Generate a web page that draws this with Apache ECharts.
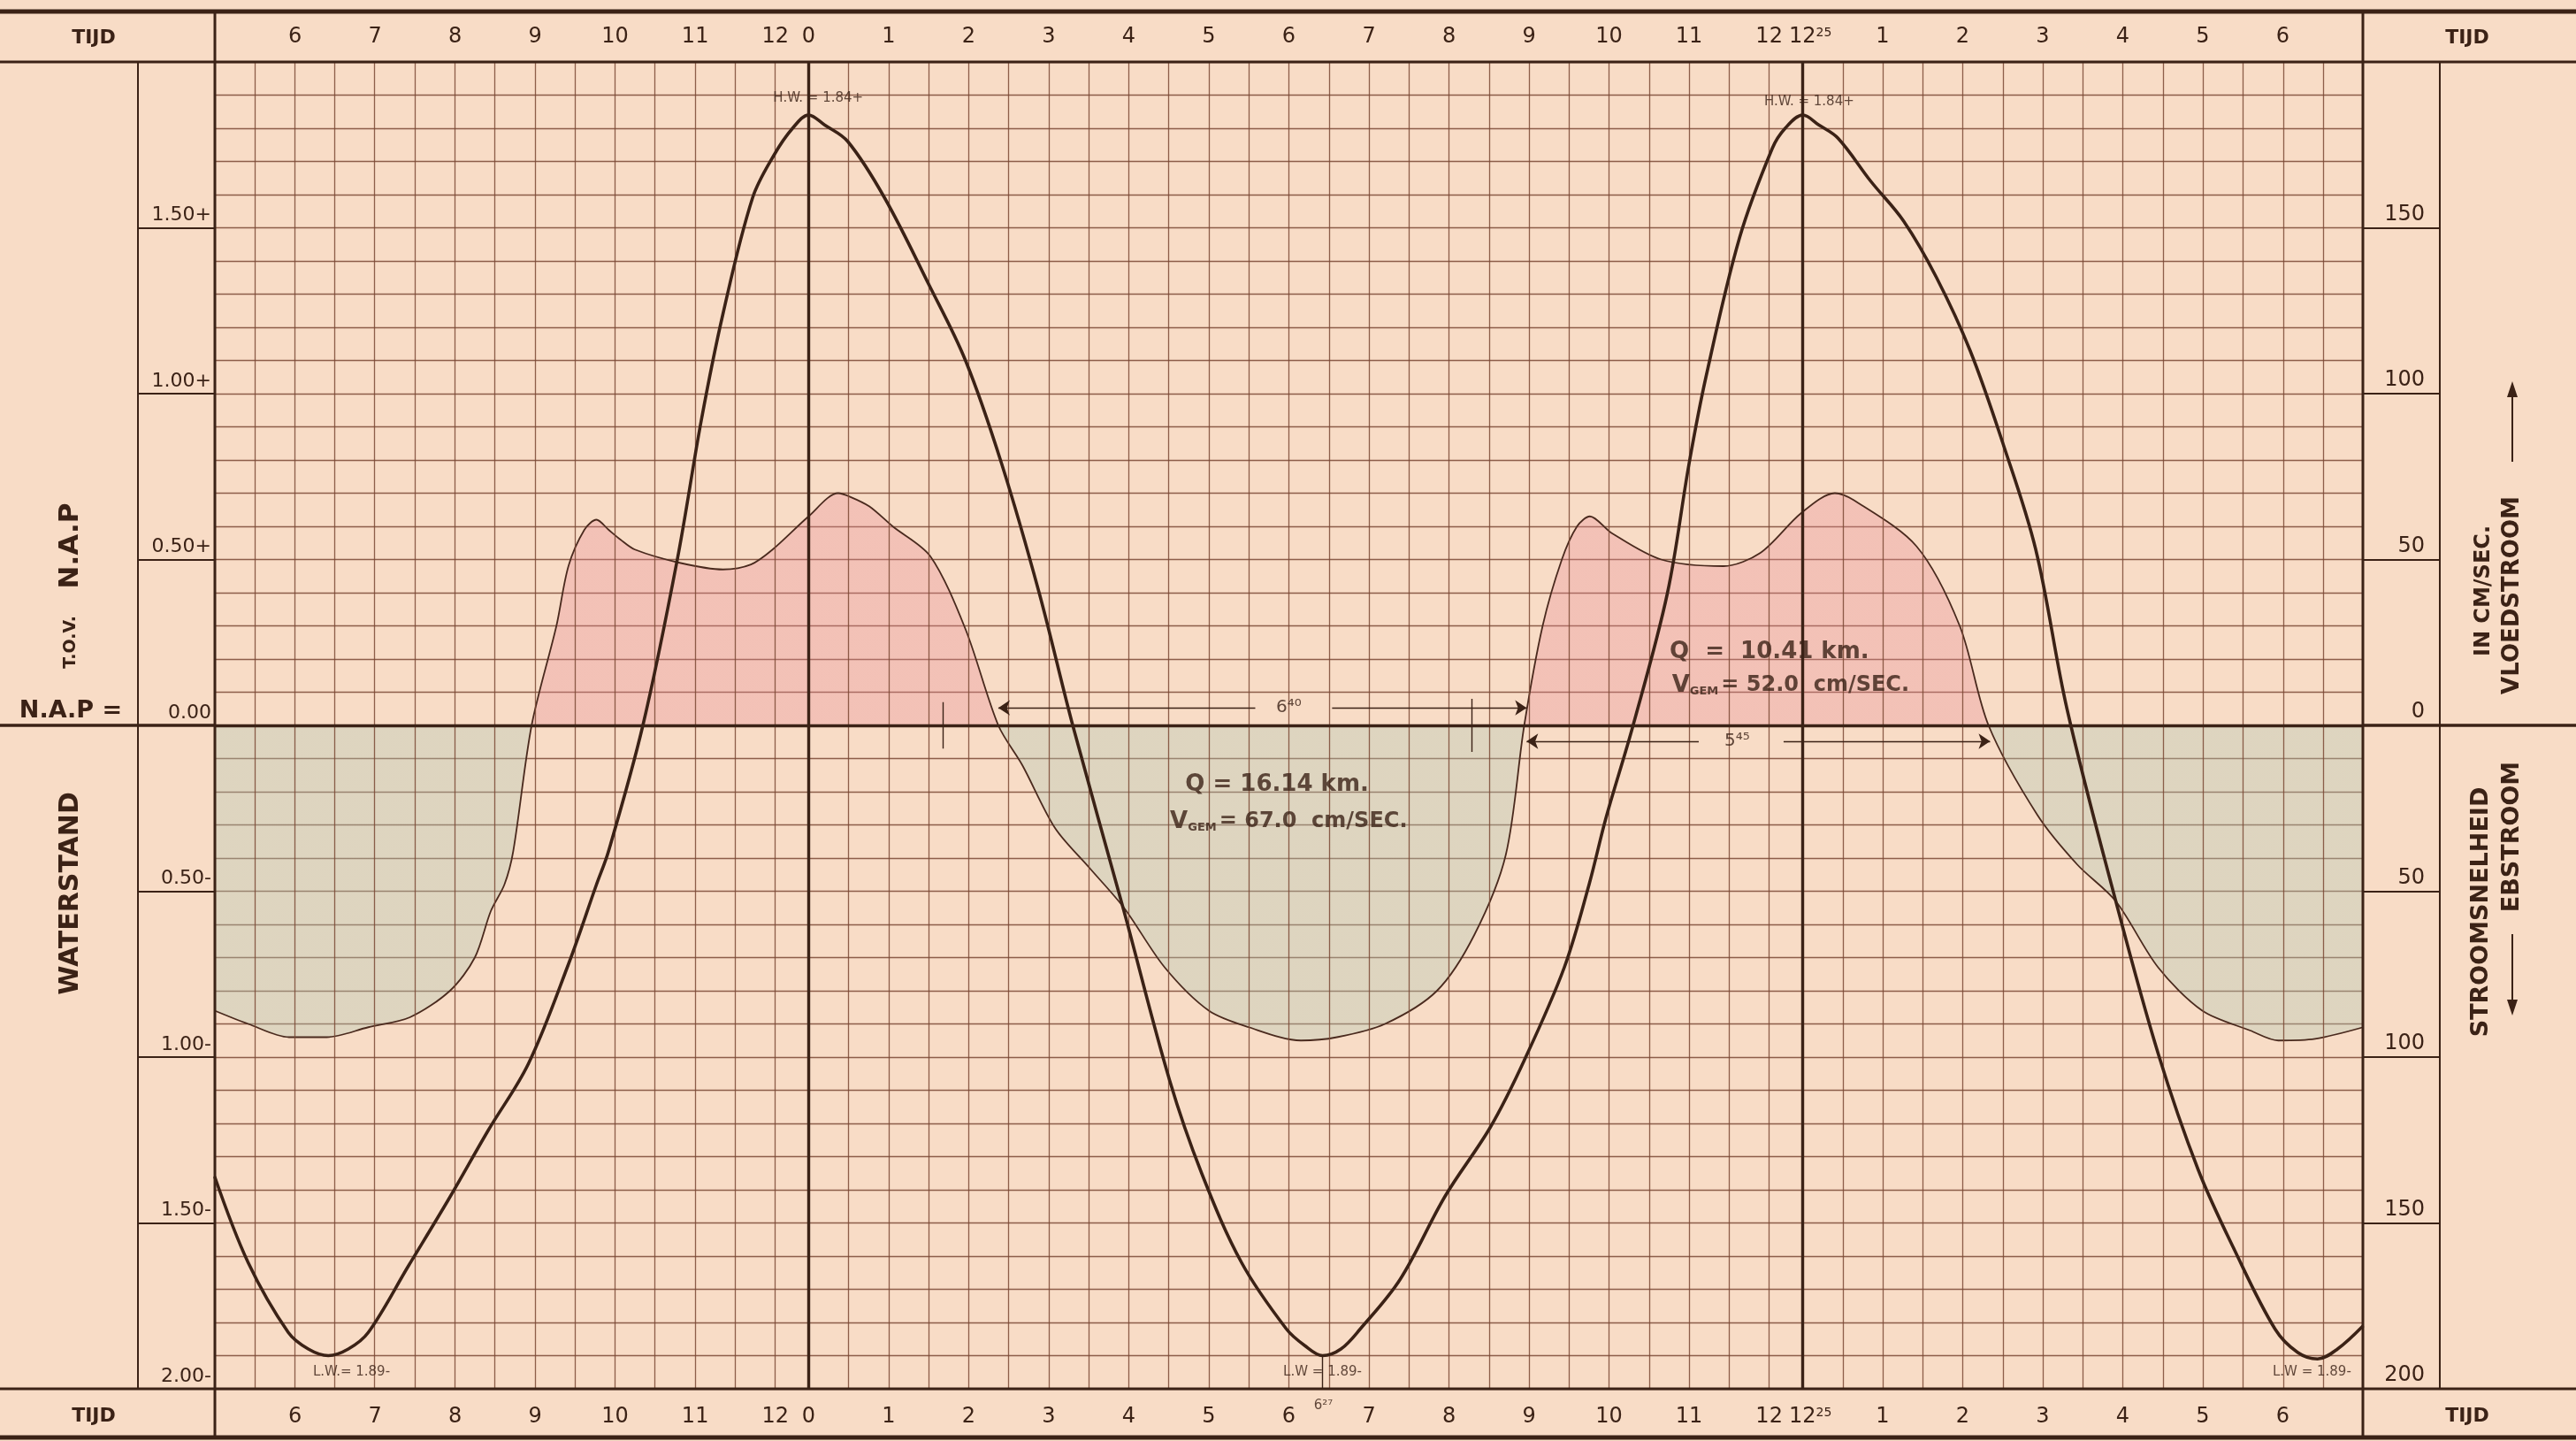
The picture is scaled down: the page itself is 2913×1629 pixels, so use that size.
<!DOCTYPE html>
<html>
<head>
<meta charset="utf-8">
<title>Getijdediagram</title>
<script src="https://cdn.jsdelivr.net/npm/echarts@6/dist/echarts.min.js"></script>
<style>
html, body { margin: 0; padding: 0; background: #f8dcc6; }
#chart { width: 2913px; height: 1629px; }
</style>
</head>
<body>
<div id="chart"></div>
<script>
// tijd tussen de twee hoogwaters (12 uur 25 min)
const T = 12 + 25 / 60;
const X_MIN = 5 - T;
const X_MAX = T + 7;

// tijd-as, uren t.o.v. eerste H.W.
const tickHours = [6 - T, 7 - T, 8 - T, 9 - T, 10 - T, 11 - T, 12 - T, 0,
    1, 2, 3, 4, 5, 6, 7, 8, 9, 10, 11, 12, T,
    T + 1, T + 2, T + 3, T + 4, T + 5, T + 6];
const tickLabels = ['6', '7', '8', '9', '10', '11', '12', '0',
    '1', '2', '3', '4', '5', '6', '7', '8', '9', '10', '11', '12', '12^25',
    '1', '2', '3', '4', '5', '6'];

// waterstand (m t.o.v. N.A.P.)
const waterHours = [-7.42, -7.0, -6.5, -6.25, -6.0, -5.75, -5.5, -5.0, -4.5, -4.0, -3.5, -3.0, -2.65, -2.5,
    -2.07, -1.64, -1.34, -1.07, -0.7, -0.43, -0.2, 0, 0.2, 0.49, 0.95, 1.5, 1.96, 2.41, 2.88, 3.3,
    3.94, 4.51, 4.91, 5.41, 5.97, 6.2, 6.42, 6.65, 6.89, 7.39, 7.95, 8.52, 8.94, 9.44, 9.75, 9.96,
    10.3, 10.73, 11.0, 11.21, 11.63, 12.04, 12.2, 12.42, 12.62, 12.86, 13.27, 13.68, 14.09, 14.51,
    14.92, 15.33, 15.72, 16.33, 16.86, 17.36, 17.81, 18.32, 18.6, 18.85, 19.1, 19.42];
const waterLevel = [-1.36, -1.62, -1.83, -1.88, -1.90, -1.88, -1.83, -1.63, -1.43, -1.22, -1.02, -0.72, -0.48, -0.38,
    0, 0.50, 0.92, 1.24, 1.59, 1.72, 1.80, 1.84, 1.81, 1.76, 1.59, 1.33, 1.10, 0.79, 0.40, 0,
    -0.56, -1.07, -1.35, -1.62, -1.82, -1.87, -1.90, -1.88, -1.82, -1.67, -1.42, -1.21, -1.01, -0.73, -0.48, -0.28,
    0, 0.40, 0.79, 1.05, 1.47, 1.74, 1.80, 1.84, 1.81, 1.77, 1.64, 1.52, 1.35, 1.13,
    0.85, 0.53, 0.05, -0.53, -0.99, -1.34, -1.58, -1.82, -1.89, -1.91, -1.88, -1.81];

// stroomsnelheid (cm/sec, + vloedstroom, - ebstroom)
const flowHours = [-7.42, -7.0, -6.49, -6.02, -5.5, -4.98, -4.48, -4.17, -3.97, -3.8, -3.69, -3.46, -3.15, -3.0,
    -2.8, -2.65, -2.5, -2.35, -2.17, -1.61, -1.07, -0.72, -0.45, 0.0, 0.37, 0.51, 0.76, 1.05, 1.52, 1.96,
    2.37, 2.67, 3.08, 3.51, 3.94, 4.45, 5.0, 5.5, 6.15, 6.6, 7.2, 7.85, 8.32, 8.71, 8.94, 9.17, 9.41,
    9.6, 9.76, 10.03, 10.65, 11.43, 11.89, 12.4, 12.82, 13.05, 13.84, 14.38, 14.74, 15.35, 15.85, 16.33,
    16.86, 17.41, 18.01, 18.36, 18.82, 19.42];
const flowSpeed = [-86, -90, -94, -94, -91, -88, -80, -70, -56, -48, -38, 0, 30, 48,
    59, 62, 59, 56, 53, 49, 47, 48.5, 53, 63, 70, 69, 66, 60, 51, 29,
    0, -12, -31, -43, -55, -73, -86, -91, -95, -94, -90, -80, -63, -39, 0, 30, 50,
    60, 63, 58, 50, 48, 52, 64, 70, 68, 54, 30, 0, -27, -42, -53,
    -73, -86, -92, -95, -94.5, -91];

// opschriften in de grafiek: [uur, m, tekst, soort]
const notes = [
    [0.12, 1.89, 'H.W. = 1.84+', 'small'],
    [12.5, 1.88, 'H.W. = 1.84+', 'small'],
    [-5.71, -1.95, 'L.W.= 1.89-', 'small'],
    [6.42, -1.95, 'L.W = 1.89-', 'small'],
    [18.78, -1.95, 'L.W = 1.89-', 'small'],
    [6.43, -2.05, '6²⁷', 'small'],
    [6.0, 0.053, '6⁴⁰', 'dur'],
    [11.6, -0.048, '5⁴⁵', 'dur'],
    [4.70, -0.18, 'Q = 16.14 km.', 'q'],
    [4.51, -0.29, '{v|V}{s|GEM}{t|= 67.0  cm/SEC.}', 'v'],
    [10.75, 0.22, 'Q  =  10.41 km.', 'q'],
    [10.78, 0.12, '{v|V}{s|GEM}{t|= 52.0  cm/SEC.}', 'v']
];

const PAPER = '#f8dcc6';
const INK = '#3b2216';
const RULE = 'rgba(122,72,52,0.85)';
const FONT = 'DejaVu Sans';

const chart = echarts.init(document.getElementById('chart'));

const waterData = waterHours.map((h, i) => [h, waterLevel[i]]);
const flowData = flowHours.map((h, i) => [h, flowSpeed[i]]);

// halfuurs-lijnen, per getijcyclus
const gridTimes = [];
for (let k = 5.5; k <= 12; k += 0.5) gridTimes.push(k - T);
for (let k = 0.5; k <= 12; k += 0.5) gridTimes.push(k);
for (let k = 0.5; k <= 6.5; k += 0.5) gridTimes.push(T + k);

function tickFormatter(v) {
    const i = tickHours.findIndex(t => Math.abs(t - v) < 1e-6);
    if (i < 0) return '';
    const lab = tickLabels[i];
    if (lab.indexOf('^') >= 0) {
        const p = lab.split('^');
        return '{pad|' + p[1] + '}{n|' + p[0] + '}{sup|' + p[1] + '}';
    }
    return lab;
}

const tickRich = {
    n: { fontSize: 24, color: INK, fontFamily: FONT },
    sup: { fontSize: 14, color: INK, fontFamily: FONT, verticalAlign: 'top' },
    pad: { fontSize: 14, color: 'rgba(0,0,0,0)', fontFamily: FONT }
};

function timeAxis(pos, margin) {
    return {
        type: 'value', position: pos, min: X_MIN, max: X_MAX,
        axisLine: { show: false, onZero: false }, axisTick: { show: false }, splitLine: { show: false },
        axisLabel: {
            customValues: tickHours, formatter: tickFormatter, margin: margin,
            fontSize: 24, color: INK, fontFamily: FONT, rich: tickRich
        }
    };
}

const noteItems = notes.map(n => {
    const kind = n[3];
    const left = kind === 'q' || kind === 'v';
    return {
        value: [n[0], n[1]],
        label: {
            show: true, formatter: n[2], position: left ? 'right' : 'inside', distance: 0,
            color: INK, fontFamily: FONT,
            fontWeight: left ? 'bold' : 'normal',
            fontSize: kind === 'small' ? 15 : (kind === 'dur' ? 20 : 26),
            rich: {
                v: { fontSize: 26, color: INK, fontFamily: FONT, fontWeight: 'bold' },
                s: { fontSize: 13, color: INK, fontFamily: FONT, fontWeight: 'bold', verticalAlign: 'bottom', padding: [0, 3, 0, 0] },
                t: { fontSize: 24, color: INK, fontFamily: FONT, fontWeight: 'bold' }
            }
        }
    };
});

const option = {
    backgroundColor: PAPER,
    animation: false,
    grid: { left: 243, right: 241, top: 70, bottom: 59, outerBoundsMode: 'none' },
    xAxis: [timeAxis('bottom', 20), timeAxis('top', 16)],
    yAxis: [
        {
            type: 'value', min: -2, max: 2, interval: 0.1,
            axisLine: { show: false, onZero: false }, axisTick: { show: false }, axisLabel: { show: false },
            splitLine: { show: true, lineStyle: { color: RULE, width: 1.3 } }
        },
        {
            type: 'value', position: 'left', min: -2, max: 2, interval: 0.5,
            axisLine: { show: false, onZero: false }, splitLine: { show: false },
            axisTick: { show: true, inside: false, length: 87, lineStyle: { color: INK, width: 2 } },
            axisLabel: {
                margin: 4, verticalAlign: 'bottom', padding: [0, 0, 3, 0],
                fontSize: 22, color: INK, fontFamily: FONT,
                formatter: function (v) {
                    if (Math.abs(v) < 1e-9) return '0.00';
                    if (v > 1.99) return '';
                    return Math.abs(v).toFixed(2) + (v > 0 ? '+' : '-');
                }
            }
        },
        {
            type: 'value', position: 'right', min: -200, max: 200, interval: 50,
            axisLine: { show: false, onZero: false }, splitLine: { show: false },
            axisTick: { show: true, inside: false, length: 87, lineStyle: { color: INK, width: 2 } },
            axisLabel: {
                margin: 70, align: 'right', verticalAlign: 'bottom', padding: [0, 0, 3, 0],
                fontSize: 24, color: INK, fontFamily: FONT,
                formatter: function (v) { return v > 199 ? '' : String(Math.abs(v)); }
            }
        }
    ],
    visualMap: {
        type: 'piecewise', show: false, seriesIndex: 1, dimension: 1,
        pieces: [
            { gt: 0, lte: 500, color: 'rgba(232,138,150,0.32)' },
            { gte: -500, lte: 0, color: 'rgba(176,200,180,0.36)' }
        ]
    },
    series: [
        {
            name: 'raster', type: 'line', data: [], z: 1, silent: true,
            markLine: {
                silent: true, animation: false, symbol: ['none', 'none'], label: { show: false },
                lineStyle: { color: RULE, width: 1.3, type: 'solid' },
                data: gridTimes.map(t => ({ xAxis: t }))
            }
        },
        {
            name: 'stroom-vlak', type: 'line', data: flowData, yAxisIndex: 2, z: 2, silent: true,
            smooth: 0.3, symbol: 'none',
            lineStyle: { width: 0 }, areaStyle: { opacity: 1 }
        },
        {
            name: 'stroomsnelheid', type: 'line', data: flowData, yAxisIndex: 2, z: 4,
            smooth: 0.3, symbol: 'none',
            lineStyle: { color: '#4a2a1e', width: 1.8 }
        },
        {
            name: 'waterstand', type: 'line', data: waterData, yAxisIndex: 0, z: 5,
            smooth: 0.35, symbol: 'none',
            lineStyle: { color: INK, width: 3.6 },
            markLine: {
                silent: true, animation: false, symbol: ['none', 'none'], label: { show: false },
                lineStyle: { color: INK, width: 1.4, type: 'solid' },
                data: [
                    { xAxis: 0, lineStyle: { color: INK, width: 3.4 } },
                    { xAxis: T, lineStyle: { color: INK, width: 3.4 } },
                    { yAxis: 0, lineStyle: { color: INK, width: 3.4 } },
                    [{ coord: [2.37, 0.053], symbol: 'arrow', symbolSize: 13 }, { coord: [5.58, 0.053], symbol: 'none' }],
                    [{ coord: [6.54, 0.053], symbol: 'none' }, { coord: [8.97, 0.053], symbol: 'arrow', symbolSize: 13 }],
                    [{ coord: [8.97, -0.048], symbol: 'arrow', symbolSize: 13 }, { coord: [11.12, -0.048], symbol: 'none' }],
                    [{ coord: [12.18, -0.048], symbol: 'none' }, { coord: [14.76, -0.048], symbol: 'arrow', symbolSize: 13 }],
                    [{ coord: [1.68, 0.07] }, { coord: [1.68, -0.07] }],
                    [{ coord: [8.28, 0.08] }, { coord: [8.28, -0.08] }],
                    [{ coord: [6.42, -1.90] }, { coord: [6.42, -2.0] }]
                ]
            }
        },
        {
            name: 'opschriften', type: 'scatter', data: noteItems, z: 6, clip: false, silent: true,
            symbolSize: 1, itemStyle: { color: 'rgba(0,0,0,0)' }
        }
    ]
};

chart.setOption(option);

// kader, kolommen en opschriften buiten het diagram
const y0 = chart.convertToPixel({ yAxisIndex: 0 }, 0);
function L(x1, y1, x2, y2, w) {
    return { type: 'line', silent: true, z: 10, shape: { x1: x1, y1: y1, x2: x2, y2: y2 }, style: { stroke: INK, lineWidth: w } };
}
function Tx(x, y, text, font, rot, va) {
    return {
        type: 'text', silent: true, z: 10, x: x, y: y, rotation: rot || 0,
        style: { text: text, font: font, fill: INK, align: 'center', verticalAlign: va || 'middle' }
    };
}
function arrow(x, tail, tip) {
    const d = tip < tail ? 1 : -1;
    return [
        L(x, tail, x, tip + d * 6, 2),
        { type: 'polygon', silent: true, z: 10, shape: { points: [[x - 6, tip + d * 18], [x + 6, tip + d * 18], [x, tip]] }, style: { fill: INK } }
    ];
}
const bold = s => 'bold ' + s + 'px "DejaVu Sans"';
const R = Math.PI / 2;

chart.setOption({
    graphic: [
        L(0, 13, 2913, 13, 5),
        L(0, 70, 2913, 70, 3),
        L(0, 1570, 2913, 1570, 3),
        L(0, 1625, 2913, 1625, 5),
        L(243, 13, 243, 1625, 3),
        L(2672, 13, 2672, 1625, 3),
        L(156, 70, 156, 1570, 2),
        L(2759, 70, 2759, 1570, 2),
        L(0, y0, 243, y0, 3.4),
        L(2672, y0, 2913, y0, 3.4),
        Tx(106, 43, 'TIJD', bold(22)),
        Tx(2790, 43, 'TIJD', bold(22)),
        Tx(106, 1601, 'TIJD', bold(22)),
        Tx(2790, 1601, 'TIJD', bold(22)),
        Tx(80, y0 - 3, 'N.A.P =', bold(27), 0, 'bottom'),
        Tx(80, 617, 'N.A.P', bold(31), R),
        Tx(80, 726, 'T.O.V.', bold(19), R),
        Tx(80, 1010, 'WATERSTAND', bold(30), R),
        Tx(2809, 668, 'IN CM/SEC.', bold(24), R),
        Tx(2841, 673, 'VLOEDSTROOM', bold(26), R),
        Tx(2806, 1031, 'STROOMSNELHEID', bold(27), R),
        Tx(2841, 946, 'EBSTROOM', bold(27), R)
    ].concat(arrow(2841, 522, 431), arrow(2841, 1056, 1148))
});

window.addEventListener('resize', function () {
    chart.resize();
});
</script>
</body>
</html>
